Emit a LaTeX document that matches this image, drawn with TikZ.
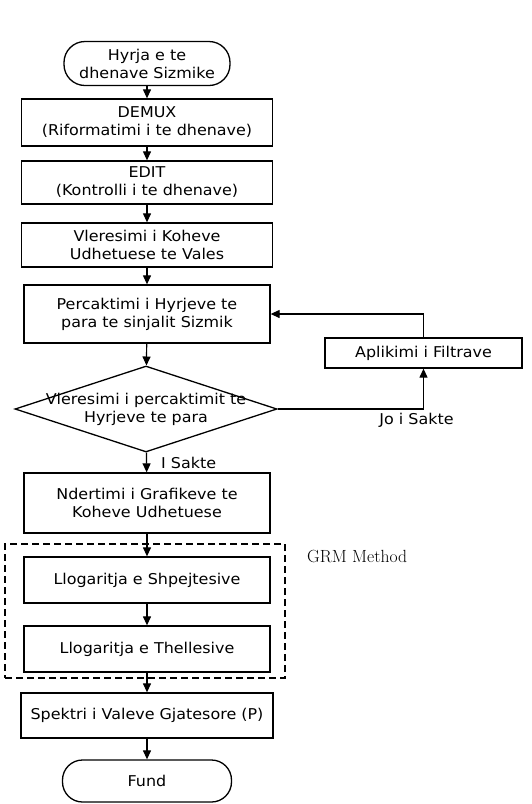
\documentclass[tikz,border=0pt]{standalone}
\usepackage{fontspec}
\newfontfamily\flowfont{DejaVu Sans}[FakeStretch=1.07]
\usetikzlibrary{arrows.meta, shapes.geometric}
\tikzset{
  proc/.style={
    rectangle, draw=black, line width=1.3pt,
    minimum width=246pt, minimum height=46pt,
    align=center, fill=white, inner sep=0pt,
    font=\flowfont\fontsize{14.9}{18}\selectfont
  },
  term/.style = {proc, rounded corners=21pt, minimum width=166pt, minimum height=44pt},
  dec/.style  = {diamond, draw=black, line width=1.3pt, fill=white,
                 minimum width=262pt, minimum height=86pt, aspect=3.05, inner sep=0pt},
  arr/.style  = {-{Triangle[length=9pt, width=8pt]}, line width=1.2pt},
  lbl/.style  = {font=\flowfont\fontsize{14.9}{18}\selectfont, inner sep=1pt, align=center},
  grp/.style  = {draw=black, dash pattern=on 7pt off 4pt, line width=1.5pt,
                 minimum width=280pt, minimum height=134pt, inner sep=0pt},
}

\begin{document}
\begin{tikzpicture}[x=1pt, y=-1pt]
\useasboundingbox (0,0) rectangle (531,804);

%% ── GRM group (dashed frame, drawn first) ───────────────────────────────────
\node[grp] (GRM) at (145, 611) {};
\node[font=\fontsize{17.6}{18}\selectfont, anchor=west, inner sep=0pt] (GRMTXT) at (307, 556) {GRM Method};

%% ── Main column ─────────────────────────────────────────────────────────────
\node[term] (START) at (147,  63.5) {Hyrja e te\\dhenave Sizmike};
\node[proc, minimum width=251pt, minimum height=47pt] (DEMUX) at (147, 122.5) {DEMUX\\(Riformatimi i te dhenave)};
\node[proc, minimum width=251pt, minimum height=43pt] (EDIT)  at (147, 182.5) {EDIT\\(Kontrolli i te dhenave)};
\node[proc, minimum width=251pt, minimum height=44pt] (VLER)  at (147, 245)   {Vleresimi i Koheve\\Udhetuese te Vales};
\node[proc, minimum height=58pt] (PERC) at (147, 314) {Percaktimi i Hyrjeve te\\para te sinjalit Sizmik};
\node[dec, label={[lbl]center:Vleresimi i percaktimit te\\Hyrjeve te para}] (CHK) at (146, 409) {};
\node[proc, minimum height=60pt] (NDER) at (147, 503) {Ndertimi i Grafikeve te\\Koheve Udhetuese};
\node[proc] (SHPE) at (147, 580) {Llogaritja e Shpejtesive};
\node[proc] (THEL) at (147, 649) {Llogaritja e Thellesive};
\node[proc, minimum width=252pt, minimum height=45pt] (SPEK) at (147, 715.5) {Spektri i Valeve Gjatesore (P)};
\node[term, minimum width=169pt, minimum height=42pt, rounded corners=20pt] (FUND) at (147, 781) {Fund};

%% ── Side branch ─────────────────────────────────────────────────────────────
\node[proc, minimum width=197pt, minimum height=30pt] (FILT) at (423.5, 353) {Aplikimi i Filtrave};

%% ── Straight flow ───────────────────────────────────────────────────────────
\draw[arr] (START) -- (DEMUX);
\draw[arr] (DEMUX) -- (EDIT);
\draw[arr] (EDIT)  -- (VLER);
\draw[arr] (VLER)  -- (PERC);
\draw[arr] (PERC)  -- (CHK);
\draw[arr] (CHK)   -- node[lbl, right, xshift=13pt, yshift=-1pt]{I Sakte} (NDER);
\draw[arr] (NDER)  -- (SHPE);
\draw[arr] (SHPE)  -- (THEL);
\draw[arr] (THEL)  -- (SPEK);
\draw[arr] (SPEK)  -- (FUND);

%% ── Loop back through the filters ───────────────────────────────────────────
\draw[arr] (CHK.east) -| node[lbl, below, xshift=-7pt, yshift=-3pt, pos=0.5]{Jo i Sakte} (FILT.south);
\draw[arr] (FILT.north) |- (PERC.east);

\end{tikzpicture}
\end{document}
